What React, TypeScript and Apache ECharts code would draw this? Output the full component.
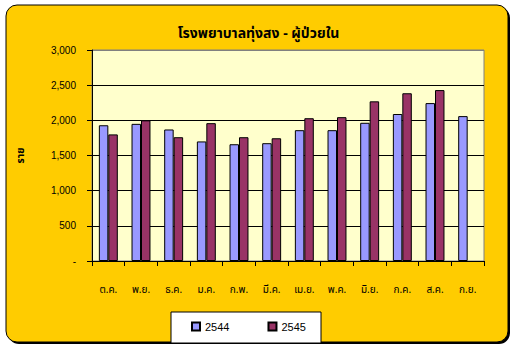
import React, { useEffect, useRef } from "react";
import * as echarts from "echarts";

const categories = ["ต.ค.", "พ.ย.", "ธ.ค.", "ม.ค.", "ก.พ.", "มี.ค.", "เม.ย.", "พ.ค.", "มิ.ย.", "ก.ค.", "ส.ค.", "ก.ย."];
const values2544 = [1930, 1950, 1870, 1700, 1660, 1675, 1860, 1860, 1965, 2090, 2245, 2060];
const values2545 = [1800, 2000, 1760, 1960, 1760, 1745, 2030, 2045, 2270, 2385, 2430, null];
const seriesNames = ["2544", "2545"];
const titleText = "โรงพยาบาลทุ่งสง - ผู้ป่วยใน";
const yName = "ราย";

const FONT = "Tahoma, 'Noto Sans Thai', 'Liberation Sans', Arial, sans-serif";

export default function App() {
  const ref = useRef<HTMLDivElement>(null);
  useEffect(() => {
    if (!ref.current) return;
    const chart = echarts.init(ref.current, null, { renderer: "svg" });
    chart.setOption({
      animation: false,
      backgroundColor: "#ffffff",
      graphic: [
        { type: "rect", z: -10, shape: { x: 8, y: 7, width: 502, height: 337, r: 11 }, style: { fill: "#000" } },
        { type: "rect", z: -9, shape: { x: 6, y: 5, width: 502, height: 337, r: 11 }, style: { fill: "#FFCC00", stroke: "#000", lineWidth: 1 } },
        { type: "rect", z: -8, shape: { x: 171, y: 312, width: 150, height: 31 }, style: { fill: "#fff", stroke: "#000", lineWidth: 1 } },
      ],
      title: {
        text: titleText,
        left: "center",
        top: 21,
        textStyle: { fontFamily: FONT, fontSize: 14, fontWeight: "bold", color: "#000" },
      },
      legend: {
        data: seriesNames,
        left: 191,
        top: 321,
        padding: 0,
        itemWidth: 8,
        itemHeight: 8,
        itemGap: 38,
        icon: "rect",
        textStyle: { fontFamily: "'Liberation Sans', Arial, sans-serif", fontSize: 11, color: "#000" },
      },
      grid: {
        left: 92,
        right: 33,
        top: 50,
        bottom: 91,
        show: true,
        backgroundColor: "#FFFFCC",
        borderColor: "#808080",
        borderWidth: 1,
      },
      xAxis: {
        type: "category",
        data: categories,
        axisLine: { lineStyle: { color: "#000", width: 1 } },
        axisTick: { show: true, length: 5, lineStyle: { color: "#000" } },
        axisLabel: { margin: 24, fontFamily: FONT, fontSize: 10, color: "#000", interval: 0 },
      },
      yAxis: {
        type: "value",
        min: 0,
        max: 3000,
        interval: 500,
        name: yName,
        nameLocation: "middle",
        nameGap: 66,
        nameTextStyle: { fontFamily: FONT, fontSize: 10, fontWeight: "bold", color: "#000" },
        axisLine: { show: true, lineStyle: { color: "#000", width: 1 } },
        axisTick: { show: true, length: 5, lineStyle: { color: "#000" } },
        axisLabel: {
          margin: 16,
          fontFamily: "'Liberation Sans', Arial, sans-serif",
          fontSize: 10,
          color: "#000",
          formatter: (v: number) => (v === 0 ? "-" : v.toLocaleString("en-US")),
        },
        splitLine: {
          show: true,
          lineStyle: { color: ["#000", "#000", "#000", "#000", "#000", "#000", "#808080"], width: 1 },
        },
      },
      series: [
        {
          name: seriesNames[0],
          type: "bar",
          data: values2544,
          barGap: "0%",
          barCategoryGap: "42%",
          itemStyle: { color: "#9999FF", borderColor: "#000", borderWidth: 1 },
        },
        {
          name: seriesNames[1],
          type: "bar",
          data: values2545,
          barGap: "0%",
          barCategoryGap: "42%",
          itemStyle: { color: "#993366", borderColor: "#000", borderWidth: 1 },
        },
      ],
    });
    return () => chart.dispose();
  }, []);
  return <div ref={ref} style={{ position: "fixed", left: 0, top: 0, width: 517, height: 352 }} />;
}
